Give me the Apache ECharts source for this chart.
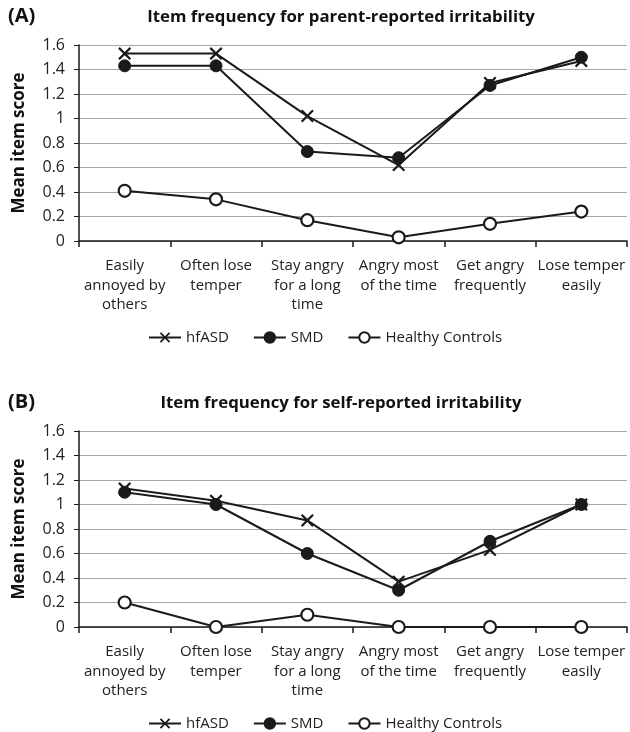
<!DOCTYPE html>
<html><head><meta charset="utf-8">
<script src="https://cdn.jsdelivr.net/npm/echarts@6/dist/echarts.min.js"></script>
<style>html,body{margin:0;padding:0;background:#fff}#c{width:630px;height:732px}</style>
</head><body><div id="c"></div>
<script>
const categories = ["Easily\nannoyed by\nothers", "Often lose\ntemper", "Stay angry\nfor a long\ntime", "Angry most\nof the time", "Get angry\nfrequently", "Lose temper\neasily"];
const seriesNames = ["hfASD", "SMD", "Healthy Controls"];
const parentHfASD = [1.53, 1.53, 1.02, 0.62, 1.29, 1.47];
const parentSMD = [1.43, 1.43, 0.73, 0.68, 1.27, 1.50];
const parentHC = [0.41, 0.34, 0.17, 0.03, 0.14, 0.24];
const selfHfASD = [1.13, 1.03, 0.87, 0.37, 0.63, 1.00];
const selfSMD = [1.10, 1.00, 0.60, 0.30, 0.70, 1.00];
const selfHC = [0.20, 0.00, 0.10, 0.00, 0.00, 0.00];
const yTicks = { min: 0, max: 1.6, interval: 0.2 };
const panelLabels = ["(A)", "(B)"];
const titles = ["Item frequency for parent-reported irritability", "Item frequency for self-reported irritability"];
const yAxisName = "Mean item score";

const FONT = "Open Sans";
const INK = "#1a1a1a";
const xPath = 'path://M0,1.2L1.2,0L5,3.8L8.8,0L10,1.2L6.2,5L10,8.8L8.8,10L5,6.2L1.2,10L0,8.8L3.8,5Z';
const tops = [45, 431];

function mkSeries(gi, data) {
  const base = { type: 'line', xAxisIndex: gi, yAxisIndex: gi, lineStyle: { color: INK, width: 2 }, z: 3 };
  return [
    Object.assign({}, base, { name: seriesNames[0], data: data[0], symbol: xPath, symbolSize: 13, itemStyle: { color: INK }, z: 4 }),
    Object.assign({}, base, { name: seriesNames[1], data: data[1], symbol: 'circle', symbolSize: 12, itemStyle: { color: INK, borderColor: INK, borderWidth: 1 } }),
    Object.assign({}, base, { name: seriesNames[2], data: data[2], symbol: 'circle', symbolSize: 12, itemStyle: { color: '#fff', borderColor: INK, borderWidth: 2.2 } })
  ];
}

const grids = tops.map(t => ({ left: 79, right: 3, top: t, height: 196 }));
const xAxes = tops.map((t, i) => ({
  type: 'category', gridIndex: i, data: categories, boundaryGap: true,
  axisLine: { lineStyle: { color: INK, width: 1.5 } },
  axisTick: { show: true, length: 6, lineStyle: { color: INK, width: 1.5 } },
  axisLabel: { interval: 0, margin: 15, lineHeight: 19.5, fontFamily: FONT, fontSize: 15, color: '#222' }
}));
const yAxes = tops.map((t, i) => ({
  type: 'value', gridIndex: i, min: yTicks.min, max: yTicks.max, interval: yTicks.interval,
  name: yAxisName, nameLocation: 'middle', nameRotate: 90, nameGap: 51,
  nameTextStyle: { fontFamily: FONT, fontSize: 17, fontWeight: 'bold', color: '#111' },
  axisLine: { show: true, lineStyle: { color: INK, width: 1.5 } },
  axisTick: { show: true, length: 5, lineStyle: { color: INK } },
  splitLine: { lineStyle: { color: '#a6a6a6', width: 1 } },
  axisLabel: { margin: 14, fontFamily: FONT, fontSize: 16, color: '#222' }
}));
const titleArr = [];
tops.forEach((t, i) => {
  titleArr.push({ text: panelLabels[i], left: 8, top: t - 39, padding: 0, textStyle: { fontFamily: FONT, fontSize: 20, fontWeight: 'bold', color: '#111' } });
  titleArr.push({ text: titles[i], left: 341, textAlign: 'center', top: t - 36, padding: 0, textStyle: { fontFamily: FONT, fontSize: 16.8, fontWeight: 'bold', color: '#111' } });
});
const legends = tops.map((t, i) => ({
  data: seriesNames.map(n => ({ name: n })), left: 148, top: t + 285, padding: 0, itemWidth: 32, itemHeight: 13, itemGap: 24,
  textStyle: { fontFamily: FONT, fontSize: 15, color: '#222' }
}));

const chart = echarts.init(document.getElementById('c'));
chart.setOption({
  animation: false,
  backgroundColor: '#fff',
  title: titleArr,
  grid: grids,
  xAxis: xAxes,
  yAxis: yAxes,
  legend: legends,
  series: [].concat(mkSeries(0, [parentHfASD, parentSMD, parentHC]), mkSeries(1, [selfHfASD, selfSMD, selfHC]))
});
</script></body></html>
